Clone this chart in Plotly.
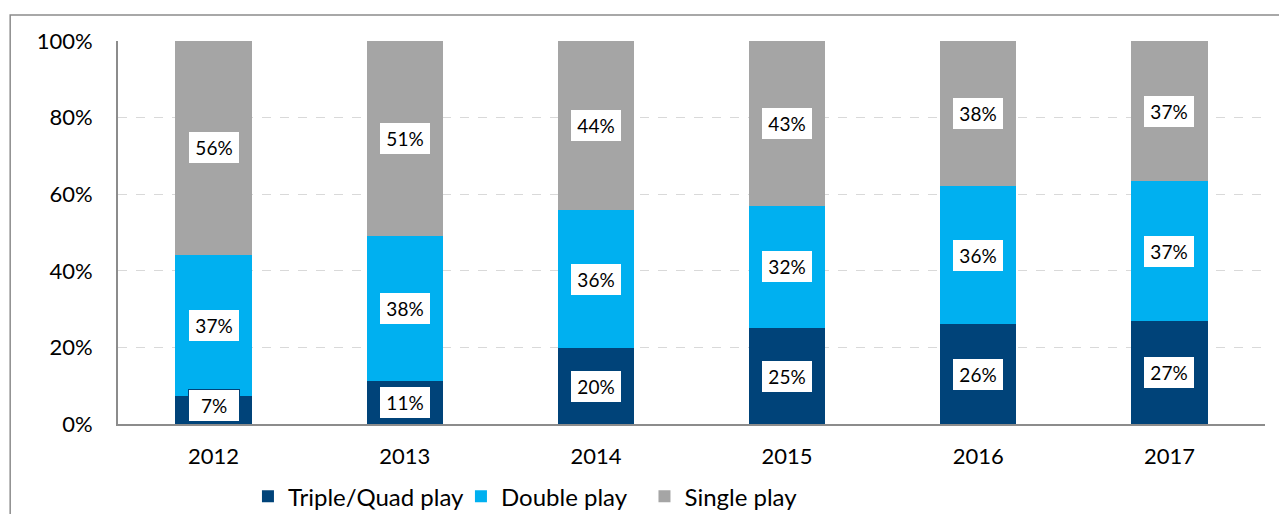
import plotly.graph_objects as go

years = ["2012", "2013", "2014", "2015", "2016", "2017"]
triple_quad = [7.4, 11.2, 19.8, 25.0, 26.1, 26.8]
double_play = [36.8, 37.9, 36.1, 32.0, 36.0, 36.6]
single_play = [55.8, 50.9, 44.1, 43.0, 37.9, 36.6]

series = [
    ("Triple/Quad play", triple_quad, "#004379", "legend", 0.1133),
    ("Double play", double_play, "#00B0F0", "legend2", 0.2990),
    ("Single play", single_play, "#A5A5A5", "legend3", 0.4590),
]

FONT = "Lato, 'Open Sans', sans-serif"

fig = go.Figure()
for name, values, color, leg, _ in series:
    fig.add_trace(go.Bar(x=years, y=values, name=name, marker_color=color,
                         marker_line_width=0, legend=leg))

# white value boxes at the middle of each segment (x = category index)
base = [0.0] * len(years)
for name, values, color, _, _ in series:
    for i in range(len(years)):
        mid = base[i] + values[i] / 2
        fig.add_annotation(x=i, y=max(mid, 4.8), text=f"{round(values[i] + 1e-9)}%",
                           showarrow=False, bgcolor="white", bordercolor=color,
                           borderwidth=1, borderpad=2, width=46, height=27,
                           font=dict(family=FONT, size=19, color="black"))
        base[i] += values[i]

# outer chart border
fig.add_shape(type="rect", xref="paper", yref="paper",
              x0=-0.094, x1=1.1, y0=-0.5, y1=1.068,
              line=dict(color="#8C8C8C", width=1.5), layer="below")

legend_style = dict(orientation="h", xanchor="left", y=-0.19, yanchor="middle",
                    font=dict(family=FONT, size=24), bgcolor="rgba(0,0,0,0)")

fig.update_layout(
    barmode="stack",
    bargap=0.6,
    width=1279, height=506,
    margin=dict(l=110, r=22, t=33, b=90, autoexpand=False),
    paper_bgcolor="white", plot_bgcolor="white",
    font=dict(family=FONT, size=22, color="black"),
    showlegend=True,
    legend=dict(x=series[0][4], **legend_style),
    legend2=dict(x=series[1][4], **legend_style),
    legend3=dict(x=series[2][4], **legend_style),
)
fig.update_xaxes(type="category", range=[-0.5, len(years) - 0.5], showline=True,
                 linecolor="#8C8C8C", linewidth=2,
                 ticks="", ticklabelstandoff=12, tickfont=dict(size=22))
fig.update_yaxes(range=[0, 100], dtick=20, ticksuffix="%", showline=True,
                 linecolor="#8C8C8C", linewidth=2, showgrid=True,
                 gridcolor="#D9D9D9", griddash="dash", zeroline=False,
                 ticks="", ticklabelstandoff=19, tickfont=dict(size=22))

fig.write_html("out.html")
